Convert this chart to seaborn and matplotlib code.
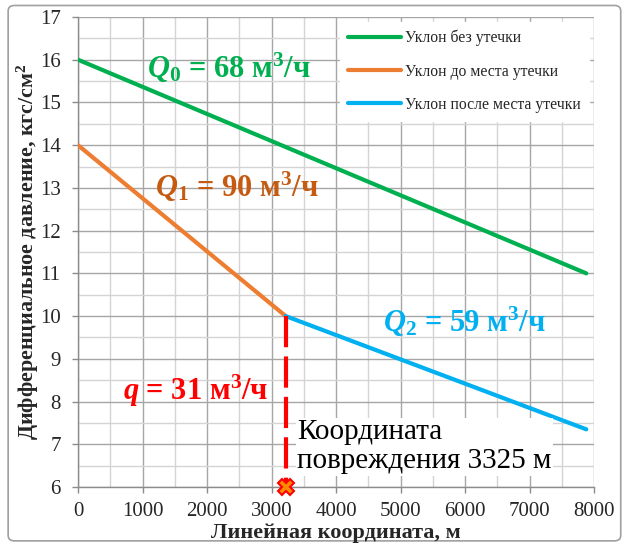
import numpy as np
import pandas as pd
import matplotlib
matplotlib.use("Agg")
import matplotlib.pyplot as plt
import seaborn as sns
from matplotlib.patches import FancyBboxPatch

# ---- data ----
x_no_leak = [0, 7880]
y_no_leak = [16.0, 11.0]
x_before = [0, 3220]
y_before = [14.0, 10.0]
x_after = [3220, 7880]
y_after = [10.0, 7.35]
leak_x = 3220
leak_y_top = 10.0
leak_y_bottom = 6.0
series_names = ["Уклон без утечки", "Уклон до места утечки", "Уклон после места утечки"]
series_colors = ["#00B050", "#ED7D31", "#00B0F0"]

sns.set_theme(style="white")
plt.rcParams['font.family'] = ['Liberation Serif', 'DejaVu Serif']
plt.rcParams['mathtext.fontset'] = 'custom'
plt.rcParams['mathtext.rm'] = 'Liberation Serif:bold'
plt.rcParams['mathtext.bf'] = 'Liberation Serif:bold'
plt.rcParams['mathtext.it'] = 'Liberation Serif:bold:italic'

df = pd.concat([
    pd.DataFrame({"x": x_no_leak, "y": y_no_leak, "s": series_names[0]}),
    pd.DataFrame({"x": x_before, "y": y_before, "s": series_names[1]}),
    pd.DataFrame({"x": x_after, "y": y_after, "s": series_names[2]}),
])

fig = plt.figure(figsize=(6.27, 5.48), dpi=100)
ax = fig.add_axes([0.1244, 0.1113, 0.8230, 0.8577])

# grid
ax.set_xlim(0, 8000)
ax.set_ylim(6, 17)
ax.set_xticks(np.arange(0, 8001, 1000))
ax.set_yticks(np.arange(6, 17.01, 1))
ax.set_xticks(np.arange(500, 8000, 1000), minor=True)
ax.set_yticks(np.arange(6.5, 17, 1), minor=True)
ax.grid(which='major', color='#A6A6A6', linewidth=1.0, zorder=0)
ax.grid(which='minor', color='#D4D4D4', linewidth=1.0, zorder=0)
ax.set_axisbelow(True)
for sp in ['top', 'right']:
    ax.spines[sp].set_visible(False)
for sp in ['left', 'bottom']:
    ax.spines[sp].set_color('#8C8C8C')
    ax.spines[sp].set_linewidth(1.0)
ax.tick_params(which='major', direction='out', length=4.5, width=1, color='#8C8C8C',
               labelsize=15, left=True, bottom=True)
ax.tick_params(axis='y', which='major', pad=8)
ax.tick_params(axis='x', which='major', pad=6)
ax.tick_params(which='minor', length=0)

sns.lineplot(data=df, x="x", y="y", hue="s", palette=series_colors,
             hue_order=series_names, linewidth=3, ax=ax, zorder=3,
             estimator=None, sort=False)

# leak marker line
ax.plot([leak_x, leak_x], [leak_y_top, leak_y_bottom], color='#FF0000', lw=3,
        dashes=(7.5, 2.2), zorder=4)
ax.plot([leak_x], [leak_y_bottom], marker='X', markersize=11, markerfacecolor='#FF8C00',
        markeredgecolor='#FF0000', markeredgewidth=1.5, zorder=6, clip_on=False)

ax.set_xlabel("Линейная координата, м", fontsize=16, fontweight='bold', labelpad=2)
ax.set_ylabel("Дифференциальное давление, кгс/см$^\\mathregular{2}$", fontsize=15.8,
              fontweight='bold', labelpad=-1)

# annotations
ax.text(1070, 15.8, r"$\mathit{Q}_{\mathregular{0}}$ = 68 м$^{\mathregular{3}}$/ч", color='#00B050',
        fontsize=22, fontweight='bold', ha='left', va='center', zorder=5)
ax.text(1194, 13.02, r"$\mathit{Q}_{\mathregular{1}}$ = 90 м$^{\mathregular{3}}$/ч", color='#C55A11',
        fontsize=22, fontweight='bold', ha='left', va='center', zorder=5)
ax.text(4729, 9.86, r"$\mathit{Q}_{\mathregular{2}}$ = 59 м$^{\mathregular{3}}$/ч", color='#00B0F0',
        fontsize=22, fontweight='bold', ha='left', va='center', zorder=5)
ax.text(698, 8.26, r"$\mathit{q}$ = 31 м$^{\mathregular{3}}$/ч", color='#FF0000',
        fontsize=22, fontweight='bold', ha='left', va='center', zorder=5)
ax.text(3395, 6.94, "Координата\nповреждения 3325 м", color='black', fontsize=21,
        ha='left', va='center', linespacing=1.15, zorder=5,
        bbox=dict(facecolor='white', edgecolor='none', pad=1))

leg = ax.legend(loc='upper right', bbox_to_anchor=(1.005, 1.006), frameon=True,
                facecolor='white', edgecolor='white', framealpha=1, fancybox=False,
                fontsize=11.3, handlelength=3.4, handletextpad=0.25, labelspacing=1.1,
                borderpad=0.5)
leg.set_zorder(10)
for line in leg.get_lines():
    line.set_linewidth(3)

# outer figure border
fig.patches.append(FancyBboxPatch((0.013, 0.013), 0.977, 0.977, boxstyle="round,pad=0,rounding_size=0.01",
                                  transform=fig.transFigure, facecolor='none',
                                  edgecolor='#A0A0A0', linewidth=1.2, zorder=-1))

fig.savefig("out.png", dpi=100)
